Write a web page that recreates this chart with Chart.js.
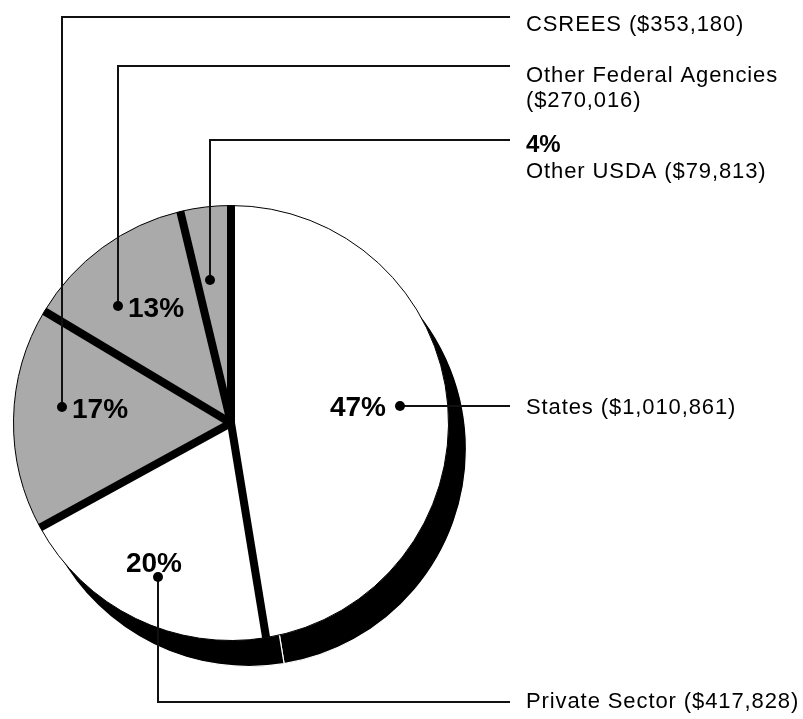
<!DOCTYPE html>
<html>
<head>
<meta charset="utf-8">
<script src="https://cdn.jsdelivr.net/npm/chart.js@4.4.1/dist/chart.umd.min.js"></script>
<style>
  html, body { margin: 0; padding: 0; background: #fff; }
  #wrap { position: relative; width: 803px; height: 719px; }
</style>
</head>
<body>
<div id="wrap"><canvas id="c"></canvas></div>
<script>
// ---- data ----
const categories = ['States', 'Private Sector', 'CSREES', 'Other Federal Agencies', 'Other USDA'];
const values = [1010861, 417828, 353180, 270016, 79813];
const sliceColors = ['#ffffff', '#ffffff', '#aaaaaa', '#aaaaaa', '#aaaaaa'];

// ---- layout / style (annotation placement) ----
const FONT = '"Liberation Sans", Arial, Helvetica, sans-serif';
const SHADOW = { dx: 18, dy: 26 };
const SEP_WIDTH = 8;
// dot placement per slice: fraction of radius, angular nudge (deg) from slice middle
const dotFrac = [0.78, 0.785, 0.78, 0.748, 0.663];
const dotShift = [-1, -0.8, 4.3, -7.7, -1.6];
// leader routing: 'h' = straight horizontal, 'v' = vertical then horizontal to lineY
const leader = [
  { mode: 'h' },
  { mode: 'v', lineY: 702 },
  { mode: 'v', lineY: 17 },
  { mode: 'v', lineY: 66 },
  { mode: 'v', lineY: 140 }
];
const LINE_END_X = 510;
const TEXT_X = 526;
// percentage placement relative to dot: where ('left','right','above','text')
const pctPlace = ['left', 'above', 'right', 'right', 'text'];

function fmt(v) { return '($' + v.toLocaleString('en-US') + ')'; }
const total = values.reduce((a, b) => a + b, 0);
const pcts = values.map(v => Math.round(v / total * 100) + '%');

// right-hand text lines per slice: [text, baseline, bold]
const rightText = [
  [[categories[0] + ' ' + fmt(values[0]), 414, false]],
  [[categories[1] + ' ' + fmt(values[1]), 708, false]],
  [[categories[2] + ' ' + fmt(values[2]), 31, false]],
  [[categories[3], 82, false], [fmt(values[3]), 107, false]],
  [[pcts[4], 152, true], [categories[4] + ' ' + fmt(values[4]), 178, false]]
];

const shadowPlugin = {
  id: 'shadow',
  beforeDatasetsDraw(chart) {
    const ctx = chart.ctx;
    const arcs = chart.getDatasetMeta(0).data;
    ctx.save();
    arcs.forEach(a => {
      const p = a.getProps(['x', 'y', 'startAngle', 'endAngle', 'outerRadius'], true);
      const cx = p.x + SHADOW.dx, cy = p.y + SHADOW.dy;
      ctx.beginPath();
      ctx.moveTo(cx, cy);
      ctx.arc(cx, cy, p.outerRadius, p.startAngle, p.endAngle);
      ctx.closePath();
      ctx.fillStyle = '#000';
      ctx.fill();
      ctx.strokeStyle = '#fff';
      ctx.lineWidth = 1.2;
      ctx.stroke();
    });
    ctx.restore();
  },
  afterDatasetsDraw(chart) {
    const ctx = chart.ctx;
    const arcs = chart.getDatasetMeta(0).data;
    ctx.save();
    ctx.strokeStyle = '#000';
    ctx.lineWidth = SEP_WIDTH;
    ctx.lineCap = 'butt';
    arcs.forEach(a => {
      const p = a.getProps(['x', 'y', 'startAngle', 'outerRadius'], true);
      ctx.beginPath();
      ctx.moveTo(p.x, p.y);
      ctx.lineTo(p.x + p.outerRadius * Math.cos(p.startAngle), p.y + p.outerRadius * Math.sin(p.startAngle));
      ctx.stroke();
    });
    ctx.restore();
  }
};

const labelPlugin = {
  id: 'labels',
  afterDraw(chart) {
    const ctx = chart.ctx;
    const arcs = chart.getDatasetMeta(0).data;
    ctx.save();
    arcs.forEach((a, i) => {
      const p = a.getProps(['x', 'y', 'startAngle', 'endAngle', 'outerRadius'], true);
      const mid = (p.startAngle + p.endAngle) / 2 + dotShift[i] * Math.PI / 180;
      const r = p.outerRadius * dotFrac[i];
      const dx = Math.round(p.x + r * Math.cos(mid));
      const dy = Math.round(p.y + r * Math.sin(mid));
      // leader line
      ctx.strokeStyle = '#111';
      ctx.lineWidth = 2;
      ctx.beginPath();
      if (leader[i].mode === 'h') {
        ctx.moveTo(dx, dy);
        ctx.lineTo(LINE_END_X, dy);
      } else {
        ctx.moveTo(dx, dy);
        ctx.lineTo(dx, leader[i].lineY);
        ctx.lineTo(LINE_END_X, leader[i].lineY);
      }
      ctx.stroke();
      // dot
      ctx.fillStyle = '#000';
      ctx.beginPath();
      ctx.arc(dx, dy, 5, 0, Math.PI * 2);
      ctx.fill();
      // percentage
      ctx.font = 'bold 28px ' + FONT;
      ctx.textBaseline = 'alphabetic';
      if (pctPlace[i] === 'left') {
        ctx.textAlign = 'right';
        ctx.fillText(pcts[i], dx - 14, dy + 10);
      } else if (pctPlace[i] === 'right') {
        ctx.textAlign = 'left';
        ctx.fillText(pcts[i], dx + 10, dy + 11);
      } else if (pctPlace[i] === 'above') {
        ctx.textAlign = 'center';
        ctx.fillText(pcts[i], dx - 4, dy - 5);
      }
      // right-hand text
      ctx.textAlign = 'left';
      rightText[i].forEach(([t, base, bold]) => {
        if (bold) {
          ctx.font = 'bold 24px ' + FONT;
          ctx.letterSpacing = '0px';
        } else {
          ctx.font = '22px ' + FONT;
          ctx.letterSpacing = '0.9px';
        }
        ctx.fillText(t, TEXT_X, base);
        ctx.letterSpacing = '0px';
      });
    });
    ctx.restore();
  }
};

new Chart(document.getElementById('c'), {
  type: 'pie',
  data: {
    labels: categories,
    datasets: [{
      data: values,
      backgroundColor: sliceColors,
      borderColor: '#000',
      borderWidth: 1
    }]
  },
  options: {
    responsive: true,
    maintainAspectRatio: false,
    animation: false,
    events: [],
    layout: { padding: { left: 13, top: 205, right: 354, bottom: 78 } },
    plugins: { legend: { display: false }, tooltip: { enabled: false } }
  },
  plugins: [shadowPlugin, labelPlugin]
});
</script>
</body>
</html>
